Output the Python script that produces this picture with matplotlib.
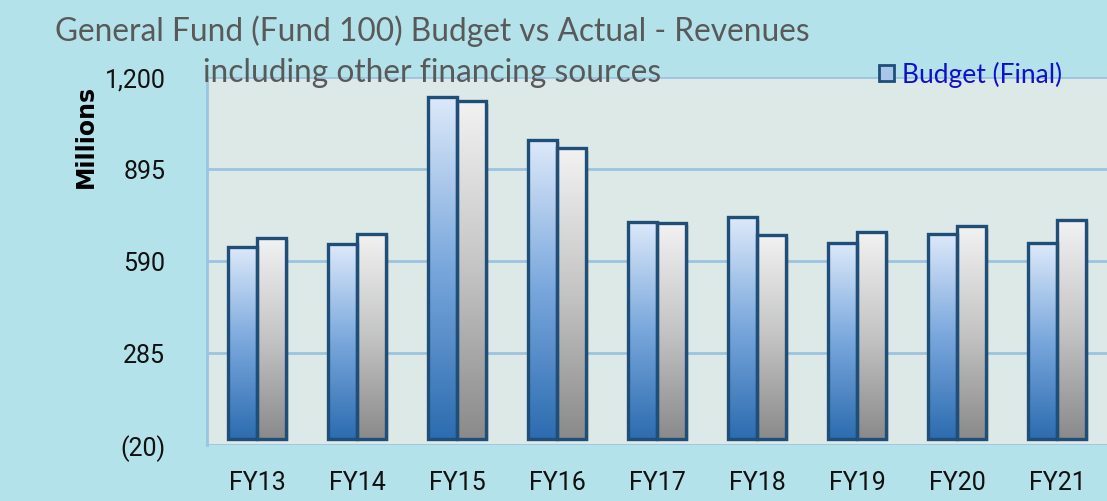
import numpy as np
import matplotlib
matplotlib.use("Agg")
import matplotlib.pyplot as plt
from matplotlib.patches import Patch, Rectangle
from matplotlib.colors import LinearSegmentedColormap
from matplotlib.ticker import FuncFormatter

# datos (millones)
anios = ["FY13", "FY14", "FY15", "FY16", "FY17", "FY18", "FY19", "FY20", "FY21"]
budget = [637, 646, 1133, 991, 720, 735, 650, 681, 649]
actual = [666, 680, 1119, 964, 716, 677, 686, 705, 726]
ticks_y = [-20, 285, 590, 895, 1200]

fondo = "#b3e2ea"
fondo_plot = "#dde9e7"
borde = "#1f4e79"
grid_col = "#9cc3e0"

cmap_azul = LinearSegmentedColormap.from_list("azul", ["#2c6cb0", "#79a7dc", "#dde9fa"])
cmap_gris = LinearSegmentedColormap.from_list("gris", ["#8a8a8a", "#c4c4c4", "#f2f2f2"])

fig = plt.figure(figsize=(11.07, 5.02), dpi=100, facecolor=fondo)
ax = fig.add_axes([207 / 1107, 56 / 502, 900 / 1107, 368 / 502])
ax.set_facecolor(fondo_plot)

x = np.arange(len(anios))
w = 0.29
grad = np.linspace(0, 1, 256).reshape(-1, 1)

def barras_gradiente(pos, valores, cmap):
    bars = ax.bar(pos, valores, w, facecolor="none", edgecolor=borde, linewidth=2.4, zorder=4)
    for b in bars:
        x0, y0 = b.get_x(), b.get_y()
        bw, bh = b.get_width(), b.get_height()
        # sombra
        ax.add_patch(Rectangle((x0 + 0.03, y0 - 8), bw, bh, facecolor="#000000", alpha=0.12,
                               edgecolor="none", zorder=2))
        im = ax.imshow(grad, extent=[x0, x0 + bw, y0, y0 + bh], origin="lower", cmap=cmap,
                       aspect="auto", zorder=3)
        im.set_clip_path(b)
    return bars

barras_gradiente(x - w / 2, budget, cmap_azul)
barras_gradiente(x + w / 2, actual, cmap_gris)

ax.set_xlim(-0.5, len(anios) - 0.5)
ax.set_ylim(-20, 1200)
ax.set_yticks(ticks_y)
ax.yaxis.set_major_formatter(FuncFormatter(lambda v, p: f"({abs(int(v))})" if v < 0 else f"{int(v):,}"))
ax.set_xticks(x)
ax.set_xticklabels(anios)
ax.tick_params(axis="y", length=0, pad=30, labelsize=18)
ax.tick_params(axis="x", length=0, pad=18, labelsize=18)
for lab in ax.get_xticklabels() + ax.get_yticklabels():
    lab.set_family("Roboto")
    lab.set_color("#111111")

ax.grid(axis="y", color=grid_col, linewidth=2, zorder=1)
for s in ["top", "right", "bottom"]:
    ax.spines[s].set_visible(False)
ax.spines["left"].set_color(grid_col)
ax.spines["left"].set_linewidth(2)

fig.text(86 / 1107, 1 - 136 / 502, "Millions", rotation=90, ha="center", va="center",
         fontsize=17, fontweight="bold", family="DejaVu Sans", color="#000000")

fig.text(432 / 1107, 1 - 31 / 502, "General Fund (Fund 100) Budget vs Actual - Revenues",
         ha="center", va="center", fontsize=22.8, color="#595959", family="Lato")
fig.text(432 / 1107, 1 - 73 / 502, "including other financing sources",
         ha="center", va="center", fontsize=22.8, color="#595959", family="Lato")

leg = fig.legend(handles=[Patch(facecolor="#a9c6ea", edgecolor=borde, linewidth=2, label="Budget (Final)")],
                 loc="center left", bbox_to_anchor=(866 / 1107, 1 - 75 / 502), frameon=False,
                 handlelength=0.55, handleheight=0.55, handletextpad=0.3, borderpad=0,
                 prop={"family": "Lato", "size": 19})
for t in leg.get_texts():
    t.set_color("#1010cc")

fig.savefig("out.png", dpi=100, facecolor=fondo)
